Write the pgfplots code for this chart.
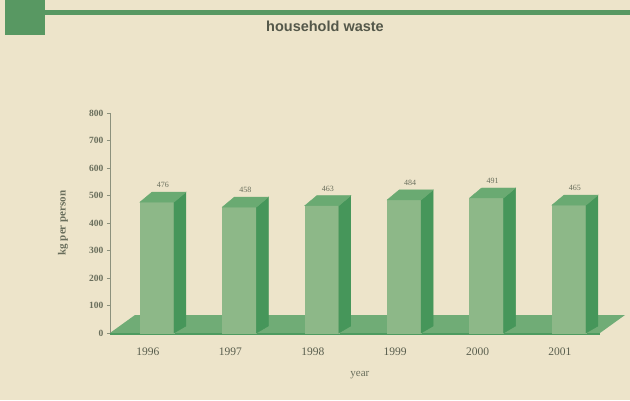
\documentclass[border=0pt]{standalone}
\usepackage{pgfplots}
\pgfplotsset{compat=1.18}
\usepackage{pgfplotstable}
\usepackage{fontspec}
\setmainfont{Liberation Serif}
\newfontfamily\titlefont{Liberation Sans}
\definecolor{bg}{RGB}{237,228,202}
\definecolor{hdr}{RGB}{88,152,98}
\definecolor{frontc}{RGB}{141,184,136}
\definecolor{sidec}{RGB}{70,150,90}
\definecolor{topc}{RGB}{106,170,114}
\definecolor{floorc}{RGB}{112,172,118}
\definecolor{axc}{RGB}{140,145,125}
\definecolor{txc}{RGB}{105,110,92}
\pgfdeclareplotmark{empty3d}{}
\pgfplotstableread{
x v
0 476
1 458
2 463
3 484
4 491
5 465
}\wastedata
\begin{document}
\begin{tikzpicture}[x=1pt,y=1pt]
\fill[bg] (0,0) rectangle (630,400);
% header
\fill[hdr] (5,365) rectangle (45,400);
\fill[hdr] (40,384.5) rectangle (630,389.5);
\node[font=\titlefont\bfseries\fontsize{14.5}{16}\selectfont, text=txc!80!black] at (325,374) {household waste};
% floor
\fill[floorc] (110,67) -- (600,67) -- (625,85) -- (135,85) -- cycle;
\fill[sidec!80!floorc] (110,67) -- (600,67) -- (600,65) -- (110,65) -- cycle;
\begin{axis}[
  at={(110pt,67pt)}, anchor=south west,
  scale only axis, width=508pt, height=220pt,
  xmin=-0.461, xmax=5.704, ymin=0, ymax=800,
  axis x line*=bottom, axis y line*=left,
  x axis line style={draw=none},
  y axis line style={draw=axc, line width=0.6pt},
  xtick={0,...,5}, xticklabels={1996,1997,1998,1999,2000,2001},
  xtick style={draw=none},
  ytick={0,100,...,800},
  ytick style={draw=axc, line width=0.5pt},
  tick align=outside, major tick length=3pt,
  /pgf/number format/assume math mode=true,
  xticklabel style={font=\fontsize{11.5}{13}\selectfont, text=txc!85!black, yshift=-8pt},
  yticklabel style={font=\bfseries\fontsize{9.5}{11}\selectfont, text=txc},
  xlabel={year}, ylabel={kg per person},
  x label style={at={(axis description cs:0.492,0)}, anchor=center, yshift=-42pt, font=\fontsize{11}{12}\selectfont, text=txc},
  y label style={at={(axis description cs:-0.0925,0.5)}, anchor=center, font=\bfseries\fontsize{11}{12}\selectfont, text=txc},
  clip=false,
]
\addplot[scatter, only marks, mark=empty3d,
  visualization depends on={\thisrow{v} \as \val},
  scatter/@pre marker code/.code={%
    \pgfmathsetmacro\h{\val*0.275}%
    \fill[frontc] (-8pt,-\h pt) rectangle (26pt,0pt);%
    \fill[sidec] (26pt,0pt) -- (38pt,10pt) -- (38pt,-\h pt+7pt) -- (26pt,-\h pt) -- cycle;%
    \fill[topc] (-8pt,0pt) -- (26pt,0pt) -- (38pt,10pt) -- (4pt,10pt) -- cycle;%
    \node[font=\fontsize{8}{9}\selectfont, text=txc] at (15pt,17pt) {\pgfmathprintnumber[fixed,precision=0]{\val}};%
  },
  scatter/@post marker code/.code={},
] table[x=x,y=v] {\wastedata};
\end{axis}
\pgfresetboundingbox
\useasboundingbox (0,0) rectangle (630,400);
\end{tikzpicture}
\end{document}
